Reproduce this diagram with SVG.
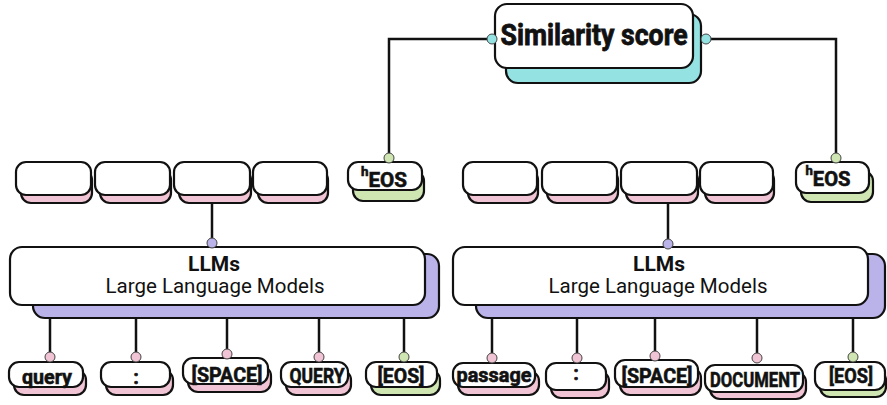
<svg xmlns="http://www.w3.org/2000/svg" width="887" height="405" viewBox="0 0 887 405">
<style>
.box{fill:#fff;stroke:#111;stroke-width:2.2}
.sh{stroke:#111;stroke-width:2.2}
.pk{fill:#f0c4d4}
.gr{fill:#cfe6b3}
.pu{fill:#b9b3e9}
.te{fill:#95e2e3}
.ln{fill:none;stroke:#111;stroke-width:2.5}
.dot{stroke:#444;stroke-width:1}
.tk{font-family:Roboto,"Liberation Sans",sans-serif;font-weight:bold;font-size:20px;fill:#111;stroke:#111;stroke-width:0.6;text-anchor:middle}
.big{font-family:Roboto,"Liberation Sans",sans-serif;font-weight:bold;font-size:29px;fill:#111;stroke:#111;stroke-width:0.8;text-anchor:middle}
.llm{font-family:Roboto,"Liberation Sans",sans-serif;font-size:20.5px;fill:#111;text-anchor:middle}
</style>
<g id="connectors">
<polyline class="ln" points="492,39 389,39 389,154"/>
<polyline class="ln" points="706,39 836,39 836,154"/>
<line class="ln" x1="212" y1="203" x2="212" y2="240"/>
<line class="ln" x1="668" y1="203" x2="668" y2="240"/>
<line class="ln" x1="50" y1="318" x2="50" y2="353"/>
<line class="ln" x1="136" y1="318" x2="136" y2="353"/>
<line class="ln" x1="227" y1="318" x2="227" y2="350"/>
<line class="ln" x1="319" y1="318" x2="319" y2="353"/>
<line class="ln" x1="404" y1="318" x2="404" y2="353"/>
<line class="ln" x1="492" y1="318" x2="492" y2="354"/>
<line class="ln" x1="577" y1="318" x2="577" y2="354"/>
<line class="ln" x1="655" y1="318" x2="655" y2="352"/>
<line class="ln" x1="757" y1="318" x2="757" y2="354"/>
<line class="ln" x1="853" y1="318" x2="853" y2="353"/>
</g>
<g id="similarity">
<rect class="sh te" x="506" y="14" width="195" height="69" rx="12"/>
<rect class="box" x="495" y="4" width="198" height="64" rx="12"/>
<text class="big" x="594" y="45" textLength="187" lengthAdjust="spacingAndGlyphs">Similarity score</text>
</g>
<g id="l-emb1"><rect class="sh pk" x="21" y="170" width="71" height="33" rx="10"/><rect class="box" x="16" y="162" width="75" height="33" rx="10"/></g>
<g id="l-emb2"><rect class="sh pk" x="100" y="170" width="71" height="33" rx="10"/><rect class="box" x="95" y="162" width="75" height="33" rx="10"/></g>
<g id="l-emb3"><rect class="sh pk" x="179" y="170" width="72" height="33" rx="10"/><rect class="box" x="174" y="162" width="76" height="33" rx="10"/></g>
<g id="l-emb4"><rect class="sh pk" x="258" y="170" width="70" height="33" rx="10"/><rect class="box" x="253" y="162" width="74" height="33" rx="10"/></g>
<g id="l-heos">
<rect class="sh gr" x="353" y="171" width="71" height="30" rx="10"/>
<rect class="box" x="348" y="162" width="74" height="28" rx="10"/>
<text class="tk" x="384" y="187" textLength="46" lengthAdjust="spacingAndGlyphs"><tspan font-size="13" dy="-11">h</tspan><tspan dy="11">EOS</tspan></text>
</g>
<g id="r-emb1"><rect class="sh pk" x="468" y="170" width="70" height="33" rx="10"/><rect class="box" x="463" y="162" width="74" height="33" rx="10"/></g>
<g id="r-emb2"><rect class="sh pk" x="547" y="170" width="71" height="33" rx="10"/><rect class="box" x="542" y="162" width="75" height="33" rx="10"/></g>
<g id="r-emb3"><rect class="sh pk" x="626" y="170" width="72" height="33" rx="10"/><rect class="box" x="621" y="162" width="76" height="33" rx="10"/></g>
<g id="r-emb4"><rect class="sh pk" x="705" y="170" width="69" height="33" rx="10"/><rect class="box" x="700" y="162" width="73" height="33" rx="10"/></g>
<g id="r-heos">
<rect class="sh gr" x="801" y="171" width="72" height="31" rx="10"/>
<rect class="box" x="796" y="162" width="73" height="31" rx="10"/>
<text class="tk" x="828" y="186" textLength="45" lengthAdjust="spacingAndGlyphs"><tspan font-size="13" dy="-11">h</tspan><tspan dy="11">EOS</tspan></text>
</g>
<g id="l-llm">
<rect class="sh pu" x="33" y="254" width="406" height="64" rx="12"/>
<rect class="box" x="10" y="247" width="415" height="58" rx="12"/>
<text class="llm"><tspan x="214" y="271" font-weight="bold" font-size="21">LLMs</tspan><tspan x="215" y="293">Large Language Models</tspan></text>
</g>
<g id="r-llm">
<rect class="sh pu" x="476" y="254" width="409" height="64" rx="12"/>
<rect class="box" x="453" y="247" width="415" height="58" rx="12"/>
<text class="llm"><tspan x="659" y="271" font-weight="bold" font-size="21">LLMs</tspan><tspan x="658" y="293">Large Language Models</tspan></text>
</g>
<g id="l-query"><rect class="sh pk" x="14" y="370" width="72" height="25" rx="10"/><rect class="box" x="9" y="362" width="74" height="25" rx="10"/><text class="tk" x="47" y="384" font-size="21" textLength="50" lengthAdjust="spacingAndGlyphs">query</text></g>
<g id="l-colon"><rect class="sh pk" x="106" y="370" width="67" height="25" rx="10"/><rect class="box" x="101" y="362" width="69" height="25" rx="10"/><text class="tk" x="136" y="384">:</text></g>
<g id="l-space"><rect class="sh pk" x="188" y="366" width="83" height="26" rx="10"/><rect class="box" x="183" y="358" width="85" height="26" rx="10"/><text class="tk" x="227" y="382" font-size="22" textLength="71" lengthAdjust="spacingAndGlyphs">[SPACE]</text></g>
<g id="l-QUERY"><rect class="sh pk" x="286" y="370" width="65" height="25" rx="10"/><rect class="box" x="281" y="362" width="67" height="25" rx="10"/><text class="tk" x="317" y="383" textLength="55" lengthAdjust="spacingAndGlyphs">QUERY</text></g>
<g id="l-eos"><rect class="sh gr" x="371" y="370" width="69" height="25" rx="10"/><rect class="box" x="366" y="362" width="71" height="25" rx="10"/><text class="tk" x="401" y="383" font-size="22" textLength="47" lengthAdjust="spacingAndGlyphs">[EOS]</text></g>
<g id="r-passage"><rect class="sh pk" x="458" y="371" width="81" height="24" rx="10"/><rect class="box" x="453" y="363" width="82" height="24" rx="10"/><text class="tk" x="494" y="382" font-size="21" textLength="75" lengthAdjust="spacingAndGlyphs">passage</text></g>
<g id="r-colon"><rect class="sh pk" x="551" y="371" width="58" height="27" rx="10"/><rect class="box" x="546" y="363" width="60" height="27" rx="10"/><text class="tk" x="576" y="380">:</text></g>
<g id="r-space"><rect class="sh pk" x="620" y="368" width="81" height="27" rx="10"/><rect class="box" x="615" y="360" width="83" height="27" rx="10"/><text class="tk" x="657" y="383" font-size="22" textLength="71" lengthAdjust="spacingAndGlyphs">[SPACE]</text></g>
<g id="r-document"><rect class="sh pk" x="710" y="372" width="96" height="27" rx="10"/><rect class="box" x="705" y="365" width="98" height="27" rx="10"/><text class="tk" x="755" y="387" textLength="90" lengthAdjust="spacingAndGlyphs">DOCUMENT</text></g>
<g id="r-eos"><rect class="sh gr" x="820" y="370" width="66" height="27" rx="10"/><rect class="box" x="815" y="362" width="70" height="28" rx="10"/><text class="tk" x="851" y="383" font-size="22" textLength="44" lengthAdjust="spacingAndGlyphs">[EOS]</text></g>
<g id="ports">
<circle class="dot te" cx="492" cy="39" r="5"/>
<circle class="dot te" cx="706" cy="39" r="5"/>
<circle class="dot gr" cx="389" cy="158" r="5"/>
<circle class="dot gr" cx="836" cy="158" r="5"/>
<circle class="dot pu" cx="212" cy="243" r="5"/>
<circle class="dot pu" cx="668" cy="244" r="5"/>
<circle class="dot pk" cx="50" cy="357" r="5"/>
<circle class="dot pk" cx="136" cy="357" r="5"/>
<circle class="dot pk" cx="227" cy="354" r="5"/>
<circle class="dot pk" cx="319" cy="357" r="5"/>
<circle class="dot gr" cx="404" cy="357" r="5"/>
<circle class="dot pk" cx="492" cy="358" r="5"/>
<circle class="dot pk" cx="577" cy="358" r="5"/>
<circle class="dot pk" cx="655" cy="356" r="5"/>
<circle class="dot pk" cx="757" cy="358" r="5"/>
<circle class="dot gr" cx="853" cy="357" r="5"/>
</g>
</svg>
